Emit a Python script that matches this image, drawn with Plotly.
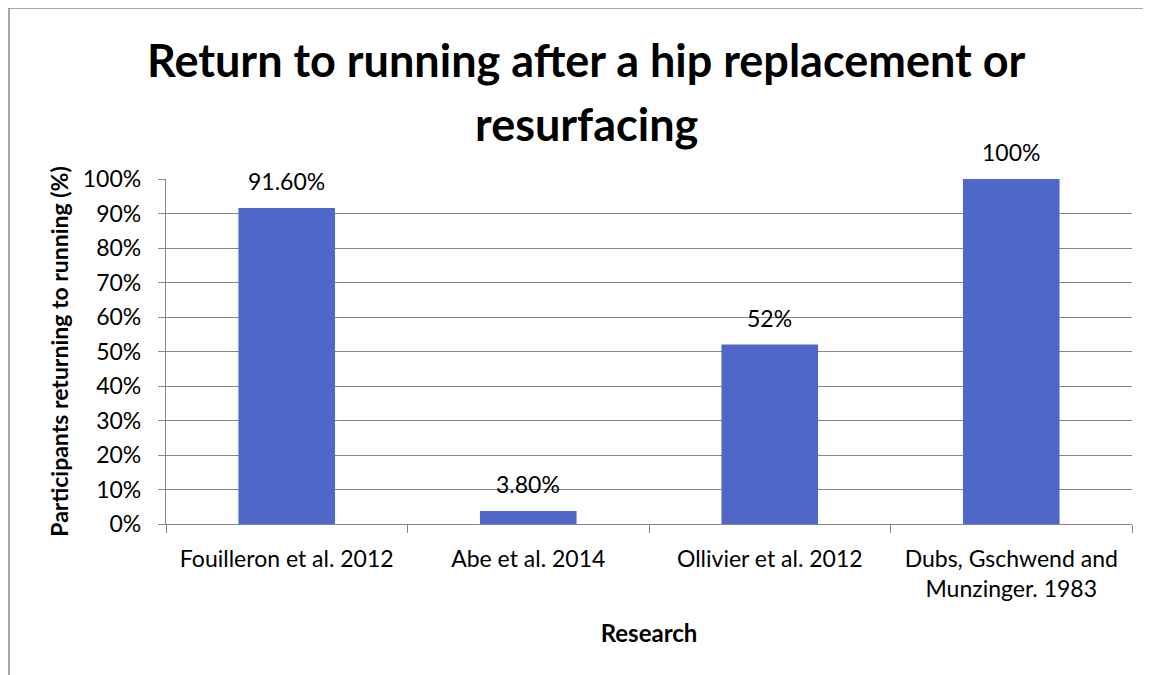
import plotly.graph_objects as go

categories = ["Fouilleron et al. 2012", "Abe et al. 2014", "Ollivier et al. 2012",
              "Dubs, Gschwend and<br>Munzinger. 1983"]
values = [91.6, 3.8, 52, 100]
value_labels = ["91.60%", "3.80%", "52%", "100%"]
y_ticks = [0, 10, 20, 30, 40, 50, 60, 70, 80, 90, 100]
y_tick_labels = [f"{v}%" for v in y_ticks]
title_lines = ["Return to running after a hip replacement or", "resurfacing"]

FONT = "Lato, Open Sans, sans-serif"
GRID = "#878787"

fig = go.Figure(go.Bar(
    x=categories, y=values,
    marker=dict(color="#4F67C8", line=dict(width=0)),
    width=0.4, hoverinfo="skip"))

for c, v, t in zip(categories, values, value_labels):
    fig.add_annotation(x=c, y=v, text=t, showarrow=False, xanchor="center",
                       yanchor="bottom", yshift=11,
                       font=dict(size=23, color="black", family=FONT))

W, H = 1151, 675
OFF = 8  # page body offset
L, T = 166 - OFF, 179 - OFF
pw, ph = 966, 345
R, B = W - L - pw, H - T - ph


def py(page_y):
    return 1 + (T - (page_y - OFF)) / ph


def px(page_x):
    return (page_x - OFF - L) / pw


for line, yc in zip(title_lines, [60, 124]):
    fig.add_annotation(xref="paper", yref="paper", x=px(586), y=py(yc),
                       text=f"<b>{line}</b>", showarrow=False,
                       xanchor="center", yanchor="middle",
                       font=dict(size=45, family=FONT, color="black"))

fig.update_layout(
    width=W, height=H,
    margin=dict(l=L, r=R, t=T, b=B, autoexpand=False),
    paper_bgcolor="white", plot_bgcolor="white",
    showlegend=False,
    font=dict(family=FONT, color="black"),
    xaxis=dict(showline=True, linecolor=GRID, linewidth=1.3, ticks="outside",
               tickson="boundaries", ticklen=8, tickcolor=GRID, tickwidth=1.3,
               showgrid=False, tickfont=dict(size=23, family=FONT),
               ticklabelstandoff=14,
               title=dict(text="<b>Research</b>", font=dict(size=24, family=FONT), standoff=24)),
    yaxis=dict(range=[0, 100], tickvals=y_ticks, ticktext=y_tick_labels,
               showline=True, linecolor=GRID, linewidth=1.3, ticks="outside",
               ticklen=7, tickcolor=GRID, tickwidth=1.3, showgrid=True,
               gridcolor=GRID, gridwidth=1.3, zeroline=False,
               tickfont=dict(size=23, family=FONT), ticklabelstandoff=12,
               title=dict(text="<b>Participants returning to running (%)</b>",
                          font=dict(size=23, family=FONT), standoff=7)),
)

fig.add_shape(type="rect", xref="paper", yref="paper",
              x0=px(9), x1=px(W + 30),
              y0=py(H + 30), y1=py(8),
              line=dict(color="#8a8a8a", width=1.5), fillcolor="rgba(0,0,0,0)", layer="below")

fig.write_html("out.html")
